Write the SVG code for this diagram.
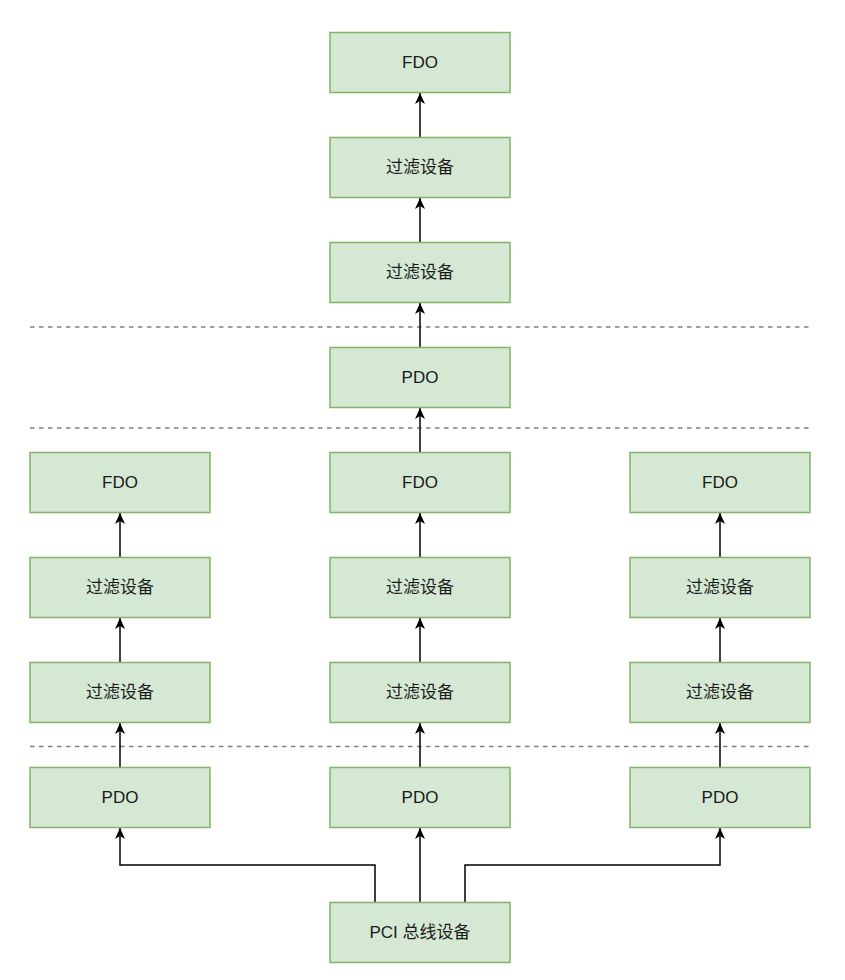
<svg xmlns="http://www.w3.org/2000/svg" width="845" height="980" viewBox="0 0 845 980">
<style>
.box{fill:#d5e8d4;stroke:#82b366;stroke-width:1.5}
.lbl{font-family:"Liberation Sans","Noto Sans CJK SC",sans-serif;font-size:17px;fill:#1a1a1a;text-anchor:middle;dominant-baseline:central}
.edge{fill:none;stroke:#000;stroke-width:1.5;marker-end:url(#arr)}
.sep{stroke:#808080;stroke-width:1.5;stroke-dasharray:4.5 4.5}
</style>
<defs>
<marker id="arr" markerUnits="userSpaceOnUse" markerWidth="12" markerHeight="12" viewBox="0 0 12 12" refX="11" refY="6" orient="auto">
<path d="M0,1 L11,6 L0,11 L3,6 Z" fill="#000"/>
</marker>
</defs>
<rect width="845" height="980" fill="#fff"/>
<g id="separators">
<line class="sep" x1="30" y1="327" x2="810" y2="327"/>
<line class="sep" x1="30" y1="428" x2="810" y2="428"/>
<line class="sep" x1="30" y1="746.5" x2="810" y2="746.5"/>
</g>
<g id="connectors">
<line class="edge" x1="420" y1="902" x2="420" y2="828"/>
<line class="edge" x1="420" y1="767" x2="420" y2="723"/>
<line class="edge" x1="420" y1="662" x2="420" y2="618"/>
<line class="edge" x1="420" y1="557" x2="420" y2="513"/>
<line class="edge" x1="420" y1="452" x2="420" y2="408"/>
<line class="edge" x1="420" y1="347" x2="420" y2="303"/>
<line class="edge" x1="420" y1="242" x2="420" y2="198"/>
<line class="edge" x1="420" y1="137" x2="420" y2="93"/>
<line class="edge" x1="120" y1="767" x2="120" y2="723"/>
<line class="edge" x1="120" y1="662" x2="120" y2="618"/>
<line class="edge" x1="120" y1="557" x2="120" y2="513"/>
<line class="edge" x1="720" y1="767" x2="720" y2="723"/>
<line class="edge" x1="720" y1="662" x2="720" y2="618"/>
<line class="edge" x1="720" y1="557" x2="720" y2="513"/>
<polyline class="edge" points="375,902 375,865 120,865 120,828"/>
<polyline class="edge" points="465,902 465,865 720,865 720,828"/>
</g>
<g id="c-fdo-top"><rect class="box" x="330" y="32.5" width="180" height="60"/><text class="lbl" x="420" y="62.5">FDO</text></g>
<g id="c-filter-1"><rect class="box" x="330" y="137.5" width="180" height="60"/><text class="lbl" x="420" y="167.5">过滤设备</text></g>
<g id="c-filter-2"><rect class="box" x="330" y="242.5" width="180" height="60"/><text class="lbl" x="420" y="272.5">过滤设备</text></g>
<g id="c-pdo-top"><rect class="box" x="330" y="347.5" width="180" height="60"/><text class="lbl" x="420" y="377.5">PDO</text></g>
<g id="l-fdo"><rect class="box" x="30" y="452.5" width="180" height="60"/><text class="lbl" x="120" y="482.5">FDO</text></g>
<g id="c-fdo"><rect class="box" x="330" y="452.5" width="180" height="60"/><text class="lbl" x="420" y="482.5">FDO</text></g>
<g id="r-fdo"><rect class="box" x="630" y="452.5" width="180" height="60"/><text class="lbl" x="720" y="482.5">FDO</text></g>
<g id="l-filter-1"><rect class="box" x="30" y="557.5" width="180" height="60"/><text class="lbl" x="120" y="587.5">过滤设备</text></g>
<g id="c-filter-3"><rect class="box" x="330" y="557.5" width="180" height="60"/><text class="lbl" x="420" y="587.5">过滤设备</text></g>
<g id="r-filter-1"><rect class="box" x="630" y="557.5" width="180" height="60"/><text class="lbl" x="720" y="587.5">过滤设备</text></g>
<g id="l-filter-2"><rect class="box" x="30" y="662.5" width="180" height="60"/><text class="lbl" x="120" y="692.5">过滤设备</text></g>
<g id="c-filter-4"><rect class="box" x="330" y="662.5" width="180" height="60"/><text class="lbl" x="420" y="692.5">过滤设备</text></g>
<g id="r-filter-2"><rect class="box" x="630" y="662.5" width="180" height="60"/><text class="lbl" x="720" y="692.5">过滤设备</text></g>
<g id="l-pdo"><rect class="box" x="30" y="767.5" width="180" height="60"/><text class="lbl" x="120" y="797.5">PDO</text></g>
<g id="c-pdo"><rect class="box" x="330" y="767.5" width="180" height="60"/><text class="lbl" x="420" y="797.5">PDO</text></g>
<g id="r-pdo"><rect class="box" x="630" y="767.5" width="180" height="60"/><text class="lbl" x="720" y="797.5">PDO</text></g>
<g id="pci"><rect class="box" x="330" y="902.5" width="180" height="60"/><text class="lbl" x="420" y="932.5">PCI 总线设备</text></g>
</svg>
